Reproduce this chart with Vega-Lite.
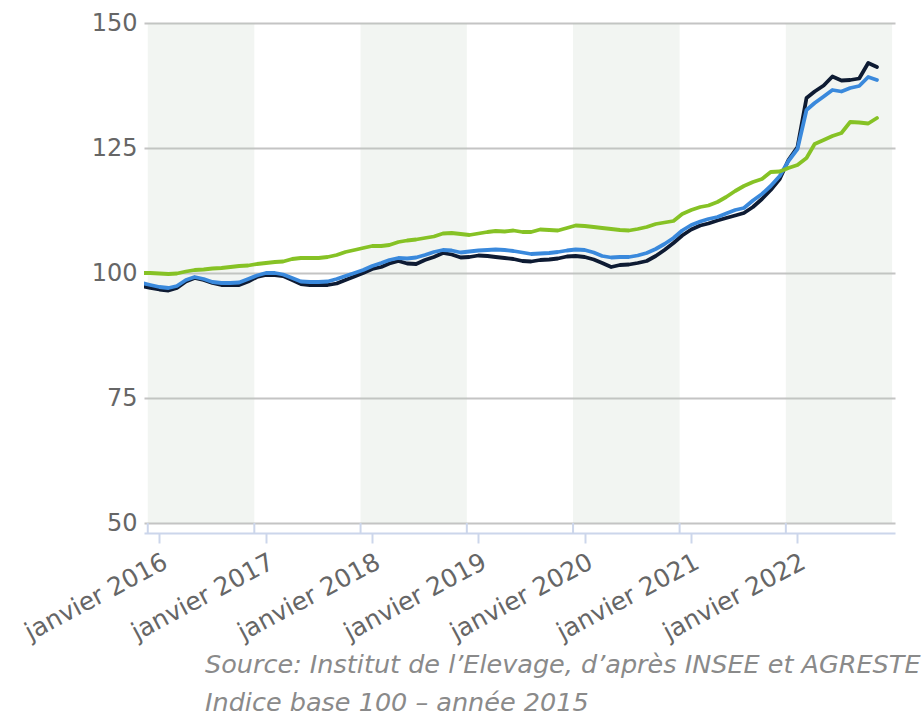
{
  "$schema": "https://vega.github.io/schema/vega-lite/v6.json",
  "width": 751,
  "height": 500,
  "autosize": {"type": "none"},
  "padding": {"left": 144, "top": 23, "right": 27, "bottom": 198},
  "background": "white",
  "config": {"view": {"stroke": null}, "font": "DejaVu Sans"},
  "title": {
    "text": ["Source: Institut de l’Elevage, d’après INSEE et AGRESTE", "Indice base 100 – année 2015"],
    "orient": "bottom",
    "anchor": "start",
    "frame": "group",
    "dx": 61,
    "offset": 8,
    "fontSize": 25.5,
    "fontStyle": "italic",
    "fontWeight": "normal",
    "font": "DejaVu Sans",
    "color": "#8a8a8a",
    "lineHeight": 38
  },
  "datasets": {
    "bandes": [
      {"debut": "2015-11-22", "fin": "2016-11-22"},
      {"debut": "2017-11-22", "fin": "2018-11-22"},
      {"debut": "2019-11-22", "fin": "2020-11-22"},
      {"debut": "2021-11-22", "fin": "2022-11-22"}
    ],
    "limites": [
      {"date": "2015-11-22"}, {"date": "2016-11-22"}, {"date": "2017-11-22"}, {"date": "2018-11-22"},
      {"date": "2019-11-22"}, {"date": "2020-11-22"}, {"date": "2021-11-22"}
    ],
    "series": [
      {"date":"2015-11-01","serie":"A","indice":97.4},{"date":"2015-12-01","serie":"A","indice":97.0},
      {"date":"2016-01-01","serie":"A","indice":96.7},{"date":"2016-02-01","serie":"A","indice":96.5},{"date":"2016-03-01","serie":"A","indice":97.0},{"date":"2016-04-01","serie":"A","indice":98.3},{"date":"2016-05-01","serie":"A","indice":99.0},{"date":"2016-06-01","serie":"A","indice":98.6},{"date":"2016-07-01","serie":"A","indice":98.0},{"date":"2016-08-01","serie":"A","indice":97.6},{"date":"2016-09-01","serie":"A","indice":97.6},{"date":"2016-10-01","serie":"A","indice":97.6},{"date":"2016-11-01","serie":"A","indice":98.3},{"date":"2016-12-01","serie":"A","indice":99.2},
      {"date":"2017-01-01","serie":"A","indice":99.6},{"date":"2017-02-01","serie":"A","indice":99.6},{"date":"2017-03-01","serie":"A","indice":99.4},{"date":"2017-04-01","serie":"A","indice":98.6},{"date":"2017-05-01","serie":"A","indice":97.8},{"date":"2017-06-01","serie":"A","indice":97.6},{"date":"2017-07-01","serie":"A","indice":97.6},{"date":"2017-08-01","serie":"A","indice":97.6},{"date":"2017-09-01","serie":"A","indice":97.9},{"date":"2017-10-01","serie":"A","indice":98.6},{"date":"2017-11-01","serie":"A","indice":99.3},{"date":"2017-12-01","serie":"A","indice":100.0},
      {"date":"2018-01-01","serie":"A","indice":100.8},{"date":"2018-02-01","serie":"A","indice":101.2},{"date":"2018-03-01","serie":"A","indice":101.9},{"date":"2018-04-01","serie":"A","indice":102.4},{"date":"2018-05-01","serie":"A","indice":101.9},{"date":"2018-06-01","serie":"A","indice":101.8},{"date":"2018-07-01","serie":"A","indice":102.6},{"date":"2018-08-01","serie":"A","indice":103.2},{"date":"2018-09-01","serie":"A","indice":104.0},{"date":"2018-10-01","serie":"A","indice":103.7},{"date":"2018-11-01","serie":"A","indice":103.1},{"date":"2018-12-01","serie":"A","indice":103.2},
      {"date":"2019-01-01","serie":"A","indice":103.5},{"date":"2019-02-01","serie":"A","indice":103.4},{"date":"2019-03-01","serie":"A","indice":103.2},{"date":"2019-04-01","serie":"A","indice":103.0},{"date":"2019-05-01","serie":"A","indice":102.8},{"date":"2019-06-01","serie":"A","indice":102.4},{"date":"2019-07-01","serie":"A","indice":102.3},{"date":"2019-08-01","serie":"A","indice":102.6},{"date":"2019-09-01","serie":"A","indice":102.7},{"date":"2019-10-01","serie":"A","indice":102.9},{"date":"2019-11-01","serie":"A","indice":103.3},{"date":"2019-12-01","serie":"A","indice":103.4},
      {"date":"2020-01-01","serie":"A","indice":103.2},{"date":"2020-02-01","serie":"A","indice":102.7},{"date":"2020-03-01","serie":"A","indice":102.0},{"date":"2020-04-01","serie":"A","indice":101.2},{"date":"2020-05-01","serie":"A","indice":101.6},{"date":"2020-06-01","serie":"A","indice":101.7},{"date":"2020-07-01","serie":"A","indice":102.0},{"date":"2020-08-01","serie":"A","indice":102.4},{"date":"2020-09-01","serie":"A","indice":103.4},{"date":"2020-10-01","serie":"A","indice":104.6},{"date":"2020-11-01","serie":"A","indice":106.0},{"date":"2020-12-01","serie":"A","indice":107.5},
      {"date":"2021-01-01","serie":"A","indice":108.7},{"date":"2021-02-01","serie":"A","indice":109.5},{"date":"2021-03-01","serie":"A","indice":109.9},{"date":"2021-04-01","serie":"A","indice":110.5},{"date":"2021-05-01","serie":"A","indice":111.0},{"date":"2021-06-01","serie":"A","indice":111.5},{"date":"2021-07-01","serie":"A","indice":112.0},{"date":"2021-08-01","serie":"A","indice":113.2},{"date":"2021-09-01","serie":"A","indice":114.8},{"date":"2021-10-01","serie":"A","indice":116.6},{"date":"2021-11-01","serie":"A","indice":118.8},{"date":"2021-12-01","serie":"A","indice":122.6},
      {"date":"2022-01-01","serie":"A","indice":125.2},{"date":"2022-02-01","serie":"A","indice":135.0},{"date":"2022-03-01","serie":"A","indice":136.3},{"date":"2022-04-01","serie":"A","indice":137.5},{"date":"2022-05-01","serie":"A","indice":139.3},{"date":"2022-06-01","serie":"A","indice":138.5},{"date":"2022-07-01","serie":"A","indice":138.6},{"date":"2022-08-01","serie":"A","indice":138.9},{"date":"2022-09-01","serie":"A","indice":142.0},{"date":"2022-10-01","serie":"A","indice":141.2},

      {"date":"2015-11-01","serie":"B","indice":98.0},{"date":"2015-12-01","serie":"B","indice":97.6},
      {"date":"2016-01-01","serie":"B","indice":97.2},{"date":"2016-02-01","serie":"B","indice":97.0},{"date":"2016-03-01","serie":"B","indice":97.4},{"date":"2016-04-01","serie":"B","indice":98.6},{"date":"2016-05-01","serie":"B","indice":99.2},{"date":"2016-06-01","serie":"B","indice":98.8},{"date":"2016-07-01","serie":"B","indice":98.2},{"date":"2016-08-01","serie":"B","indice":98.0},{"date":"2016-09-01","serie":"B","indice":98.0},{"date":"2016-10-01","serie":"B","indice":98.1},{"date":"2016-11-01","serie":"B","indice":98.8},{"date":"2016-12-01","serie":"B","indice":99.5},
      {"date":"2017-01-01","serie":"B","indice":100.0},{"date":"2017-02-01","serie":"B","indice":100.0},{"date":"2017-03-01","serie":"B","indice":99.7},{"date":"2017-04-01","serie":"B","indice":99.0},{"date":"2017-05-01","serie":"B","indice":98.3},{"date":"2017-06-01","serie":"B","indice":98.2},{"date":"2017-07-01","serie":"B","indice":98.2},{"date":"2017-08-01","serie":"B","indice":98.3},{"date":"2017-09-01","serie":"B","indice":98.8},{"date":"2017-10-01","serie":"B","indice":99.4},{"date":"2017-11-01","serie":"B","indice":100.0},{"date":"2017-12-01","serie":"B","indice":100.6},
      {"date":"2018-01-01","serie":"B","indice":101.4},{"date":"2018-02-01","serie":"B","indice":102.0},{"date":"2018-03-01","serie":"B","indice":102.6},{"date":"2018-04-01","serie":"B","indice":103.0},{"date":"2018-05-01","serie":"B","indice":102.9},{"date":"2018-06-01","serie":"B","indice":103.1},{"date":"2018-07-01","serie":"B","indice":103.6},{"date":"2018-08-01","serie":"B","indice":104.2},{"date":"2018-09-01","serie":"B","indice":104.6},{"date":"2018-10-01","serie":"B","indice":104.5},{"date":"2018-11-01","serie":"B","indice":104.1},{"date":"2018-12-01","serie":"B","indice":104.3},
      {"date":"2019-01-01","serie":"B","indice":104.5},{"date":"2019-02-01","serie":"B","indice":104.6},{"date":"2019-03-01","serie":"B","indice":104.7},{"date":"2019-04-01","serie":"B","indice":104.6},{"date":"2019-05-01","serie":"B","indice":104.4},{"date":"2019-06-01","serie":"B","indice":104.1},{"date":"2019-07-01","serie":"B","indice":103.8},{"date":"2019-08-01","serie":"B","indice":103.9},{"date":"2019-09-01","serie":"B","indice":104.0},{"date":"2019-10-01","serie":"B","indice":104.2},{"date":"2019-11-01","serie":"B","indice":104.5},{"date":"2019-12-01","serie":"B","indice":104.7},
      {"date":"2020-01-01","serie":"B","indice":104.6},{"date":"2020-02-01","serie":"B","indice":104.1},{"date":"2020-03-01","serie":"B","indice":103.4},{"date":"2020-04-01","serie":"B","indice":103.1},{"date":"2020-05-01","serie":"B","indice":103.2},{"date":"2020-06-01","serie":"B","indice":103.2},{"date":"2020-07-01","serie":"B","indice":103.5},{"date":"2020-08-01","serie":"B","indice":104.0},{"date":"2020-09-01","serie":"B","indice":104.8},{"date":"2020-10-01","serie":"B","indice":105.8},{"date":"2020-11-01","serie":"B","indice":107.0},{"date":"2020-12-01","serie":"B","indice":108.5},
      {"date":"2021-01-01","serie":"B","indice":109.6},{"date":"2021-02-01","serie":"B","indice":110.3},{"date":"2021-03-01","serie":"B","indice":110.8},{"date":"2021-04-01","serie":"B","indice":111.2},{"date":"2021-05-01","serie":"B","indice":111.9},{"date":"2021-06-01","serie":"B","indice":112.6},{"date":"2021-07-01","serie":"B","indice":113.0},{"date":"2021-08-01","serie":"B","indice":114.5},{"date":"2021-09-01","serie":"B","indice":115.8},{"date":"2021-10-01","serie":"B","indice":117.4},{"date":"2021-11-01","serie":"B","indice":119.4},{"date":"2021-12-01","serie":"B","indice":122.4},
      {"date":"2022-01-01","serie":"B","indice":124.8},{"date":"2022-02-01","serie":"B","indice":132.6},{"date":"2022-03-01","serie":"B","indice":134.0},{"date":"2022-04-01","serie":"B","indice":135.3},{"date":"2022-05-01","serie":"B","indice":136.6},{"date":"2022-06-01","serie":"B","indice":136.3},{"date":"2022-07-01","serie":"B","indice":137.0},{"date":"2022-08-01","serie":"B","indice":137.4},{"date":"2022-09-01","serie":"B","indice":139.2},{"date":"2022-10-01","serie":"B","indice":138.6},

      {"date":"2015-11-01","serie":"C","indice":100.0},{"date":"2015-12-01","serie":"C","indice":100.0},
      {"date":"2016-01-01","serie":"C","indice":99.9},{"date":"2016-02-01","serie":"C","indice":99.8},{"date":"2016-03-01","serie":"C","indice":99.9},{"date":"2016-04-01","serie":"C","indice":100.3},{"date":"2016-05-01","serie":"C","indice":100.6},{"date":"2016-06-01","serie":"C","indice":100.7},{"date":"2016-07-01","serie":"C","indice":100.9},{"date":"2016-08-01","serie":"C","indice":101.0},{"date":"2016-09-01","serie":"C","indice":101.2},{"date":"2016-10-01","serie":"C","indice":101.4},{"date":"2016-11-01","serie":"C","indice":101.5},{"date":"2016-12-01","serie":"C","indice":101.8},
      {"date":"2017-01-01","serie":"C","indice":102.0},{"date":"2017-02-01","serie":"C","indice":102.2},{"date":"2017-03-01","serie":"C","indice":102.3},{"date":"2017-04-01","serie":"C","indice":102.8},{"date":"2017-05-01","serie":"C","indice":103.0},{"date":"2017-06-01","serie":"C","indice":103.0},{"date":"2017-07-01","serie":"C","indice":103.0},{"date":"2017-08-01","serie":"C","indice":103.2},{"date":"2017-09-01","serie":"C","indice":103.6},{"date":"2017-10-01","serie":"C","indice":104.2},{"date":"2017-11-01","serie":"C","indice":104.6},{"date":"2017-12-01","serie":"C","indice":105.0},
      {"date":"2018-01-01","serie":"C","indice":105.4},{"date":"2018-02-01","serie":"C","indice":105.4},{"date":"2018-03-01","serie":"C","indice":105.6},{"date":"2018-04-01","serie":"C","indice":106.2},{"date":"2018-05-01","serie":"C","indice":106.5},{"date":"2018-06-01","serie":"C","indice":106.7},{"date":"2018-07-01","serie":"C","indice":107.0},{"date":"2018-08-01","serie":"C","indice":107.3},{"date":"2018-09-01","serie":"C","indice":107.9},{"date":"2018-10-01","serie":"C","indice":108.0},{"date":"2018-11-01","serie":"C","indice":107.8},{"date":"2018-12-01","serie":"C","indice":107.6},
      {"date":"2019-01-01","serie":"C","indice":107.9},{"date":"2019-02-01","serie":"C","indice":108.2},{"date":"2019-03-01","serie":"C","indice":108.4},{"date":"2019-04-01","serie":"C","indice":108.3},{"date":"2019-05-01","serie":"C","indice":108.5},{"date":"2019-06-01","serie":"C","indice":108.2},{"date":"2019-07-01","serie":"C","indice":108.2},{"date":"2019-08-01","serie":"C","indice":108.7},{"date":"2019-09-01","serie":"C","indice":108.6},{"date":"2019-10-01","serie":"C","indice":108.5},{"date":"2019-11-01","serie":"C","indice":109.0},{"date":"2019-12-01","serie":"C","indice":109.5},
      {"date":"2020-01-01","serie":"C","indice":109.4},{"date":"2020-02-01","serie":"C","indice":109.2},{"date":"2020-03-01","serie":"C","indice":109.0},{"date":"2020-04-01","serie":"C","indice":108.8},{"date":"2020-05-01","serie":"C","indice":108.6},{"date":"2020-06-01","serie":"C","indice":108.5},{"date":"2020-07-01","serie":"C","indice":108.8},{"date":"2020-08-01","serie":"C","indice":109.2},{"date":"2020-09-01","serie":"C","indice":109.8},{"date":"2020-10-01","serie":"C","indice":110.1},{"date":"2020-11-01","serie":"C","indice":110.4},{"date":"2020-12-01","serie":"C","indice":111.8},
      {"date":"2021-01-01","serie":"C","indice":112.6},{"date":"2021-02-01","serie":"C","indice":113.2},{"date":"2021-03-01","serie":"C","indice":113.5},{"date":"2021-04-01","serie":"C","indice":114.2},{"date":"2021-05-01","serie":"C","indice":115.2},{"date":"2021-06-01","serie":"C","indice":116.4},{"date":"2021-07-01","serie":"C","indice":117.4},{"date":"2021-08-01","serie":"C","indice":118.2},{"date":"2021-09-01","serie":"C","indice":118.8},{"date":"2021-10-01","serie":"C","indice":120.2},{"date":"2021-11-01","serie":"C","indice":120.3},{"date":"2021-12-01","serie":"C","indice":121.0},
      {"date":"2022-01-01","serie":"C","indice":121.6},{"date":"2022-02-01","serie":"C","indice":123.0},{"date":"2022-03-01","serie":"C","indice":125.8},{"date":"2022-04-01","serie":"C","indice":126.6},{"date":"2022-05-01","serie":"C","indice":127.4},{"date":"2022-06-01","serie":"C","indice":128.0},{"date":"2022-07-01","serie":"C","indice":130.2},{"date":"2022-08-01","serie":"C","indice":130.1},{"date":"2022-09-01","serie":"C","indice":129.9},{"date":"2022-10-01","serie":"C","indice":131.0}
    ]
  },
  "layer": [
    {
      "data": {"name": "bandes"},
      "mark": {"type": "rect", "color": "#bfcdbf", "opacity": 0.2},
      "encoding": {
        "x": {
          "field": "debut", "type": "temporal",
          "scale": {"type": "utc", "domain": [{"year": 2015, "month": 11, "date": 9, "utc": true}, {"year": 2022, "month": 12, "date": 2, "utc": true}]},
          "axis": {
            "title": null, "offset": 10, "grid": false,
            "values": [
              {"year": 2016, "month": 1, "date": 1, "utc": true}, {"year": 2017, "month": 1, "date": 1, "utc": true},
              {"year": 2018, "month": 1, "date": 1, "utc": true}, {"year": 2019, "month": 1, "date": 1, "utc": true},
              {"year": 2020, "month": 1, "date": 1, "utc": true}, {"year": 2021, "month": 1, "date": 1, "utc": true},
              {"year": 2022, "month": 1, "date": 1, "utc": true}
            ],
            "format": "janvier %Y",
            "labelAngle": -28, "labelAlign": "right", "labelBaseline": "top",
            "labelFontSize": 25, "labelColor": "#666666", "labelFont": "DejaVu Sans",
            "labelPadding": 6, "labelOverlap": false, "labelFlush": false, "labelBound": false,
            "tickSize": 10, "tickColor": "#ccd6eb", "tickWidth": 2,
            "domainColor": "#ccd6eb", "domainWidth": 2
          }
        },
        "x2": {"field": "fin"}
      }
    },
    {
      "data": {"name": "series"},
      "mark": {"type": "line", "strokeWidth": 3.8, "clip": true, "strokeJoin": "round", "strokeCap": "round"},
      "encoding": {
        "x": {"field": "date", "type": "temporal"},
        "y": {
          "field": "indice", "type": "quantitative",
          "scale": {"domain": [50, 150], "nice": false, "zero": false},
          "axis": {
            "title": null, "values": [50, 75, 100, 125, 150],
            "grid": true, "gridColor": "#c4c4c4", "gridWidth": 2,
            "domain": false, "ticks": false,
            "labelFontSize": 24, "labelColor": "#666666", "labelFont": "DejaVu Sans", "labelPadding": 7
          }
        },
        "color": {
          "field": "serie", "type": "nominal",
          "scale": {"domain": ["A", "B", "C"], "range": ["#0e1b33", "#3a89dc", "#86c225"]},
          "legend": null
        }
      }
    },
    {
      "mark": {"type": "rule", "color": "#ccd6eb", "strokeWidth": 2},
      "encoding": {"y": {"datum": 50}}
    },
    {
      "data": {"name": "limites"},
      "mark": {"type": "rule", "color": "#ccd6eb", "strokeWidth": 2},
      "encoding": {
        "x": {"field": "date", "type": "temporal"},
        "y": {"datum": 50},
        "y2": {"datum": 48}
      }
    }
  ]
}
